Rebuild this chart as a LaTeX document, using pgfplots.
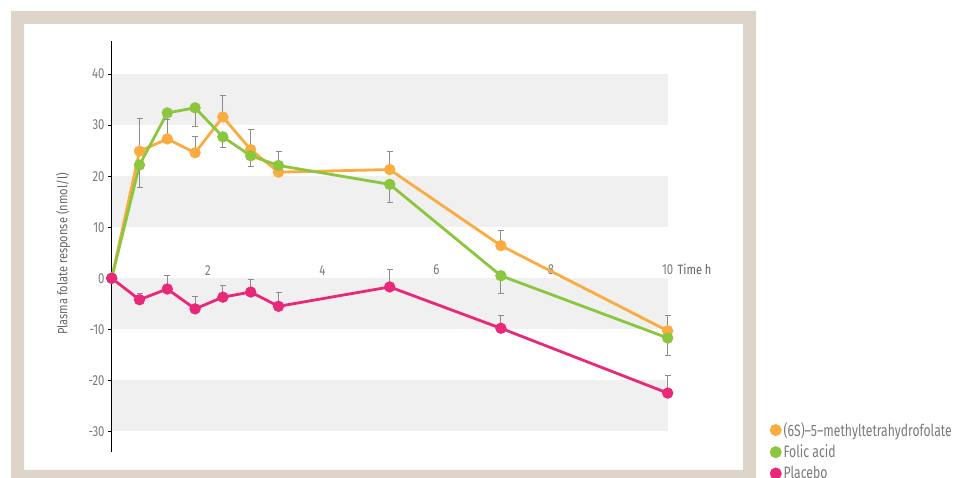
\documentclass[border=0pt]{standalone}
\usepackage{fontspec}
\setmainfont{Fira Sans}[FakeStretch=0.82]
\newfontfamily\legfont{Fira Sans}[FakeStretch=0.74]
\newfontfamily\tickfam{Fira Sans}[FakeStretch=0.78]
\usepackage{pgfplots}
\pgfplotsset{compat=1.18}

\definecolor{mthf}{HTML}{FAAC40}
\definecolor{folic}{HTML}{8CC63F}
\definecolor{placebo}{HTML}{E9287A}
\definecolor{framec}{HTML}{DDD5C9}
\definecolor{band}{HTML}{F0F0F0}
\definecolor{errbar}{HTML}{8C8C8C}
\definecolor{txt}{HTML}{7A7A7A}

\newcommand\tickfont{\tickfam\fontsize{14.5}{16}\selectfont}

\begin{document}
\begin{tikzpicture}[x=1pt,y=1pt]
% panel frame (a ring, so nothing below it is hidden)
\fill[framec, even odd rule] (11,0) rectangle (756,467) (24,8) rectangle (743,454);

\begin{axis}[
  set layers,
  scale only axis,
  width=556pt, height=411.6pt,
  at={(111.7pt,25.7pt)}, anchor=south west,
  xmin=0, xmax=10, ymin=-34.1, ymax=46.55,
  axis x line=middle, axis y line=left,
  axis line style={-, black, line width=0.9pt},
  xtick={1.73,3.79,5.84,7.90,10},
  xticklabels={{\tickfont 2},{\tickfont 4},{\tickfont 6},{\tickfont 8},{\tickfont 10}},
  ytick={-30,-20,...,40},
  yticklabel={\tickfont\pgfmathprintnumber{\tick}},
  tick align=outside,
  major tick length=4pt,
  tick style={black, line width=0.8pt},
  /pgf/number format/assume math mode=true,
  xticklabel style={text=txt, anchor=south, inner sep=2pt, yshift=5pt},
  yticklabel style={text=txt, inner sep=3pt},
  clip=false,
  legend style={draw=none, fill=none, at={(1.178,0.083)}, anchor=north west,
    font=\legfont\fontsize{16.5}{18}\selectfont, row sep=3.2pt,
    cells={anchor=west, text=txt}},
  legend image code/.code={\fill[#1] (0.15em,0) circle (4.5pt);},
  every axis plot/.append style={line width=2.8pt, mark=*, mark size=4.2pt},
  error bars/error bar style={line width=0.9pt, errbar},
  error bars/error mark options={rotate=90, mark size=3pt, line width=0.9pt, errbar},
]
% alternating horizontal bands
\fill[band, on layer=axis background] (axis cs:0,30) rectangle (axis cs:10,40);
\fill[band, on layer=axis background] (axis cs:0,10) rectangle (axis cs:10,20);
\fill[band, on layer=axis background] (axis cs:0,-10) rectangle (axis cs:10,0);
\fill[band, on layer=axis background] (axis cs:0,-30) rectangle (axis cs:10,-20);

\addplot[mthf, mark options={fill=mthf, draw=mthf},
  error bars/.cd, y dir=plus, y explicit] coordinates {
  (0,0) +- (0,0)
  (0.5,24.9) +- (0,6.4)
  (1,27.3) +- (0,3.9)
  (1.5,24.6) +- (0,3.2)
  (2,31.6) +- (0,4.2)
  (2.5,25.2) +- (0,4.0)
  (3,20.8) +- (0,4.1)
  (5,21.3) +- (0,3.5)
  (7,6.4) +- (0,2.9)
  (10,-10.3) +- (0,3.1)
};
\addlegendentry{(6S)–5–methyltetrahydrofolate}

\addplot[folic, mark options={fill=folic, draw=folic},
  error bars/.cd, y dir=minus, y explicit] coordinates {
  (0,0) +- (0,0)
  (0.5,22.2) +- (0,4.5)
  (1,32.4) +- (0,1.2)
  (1.5,33.4) +- (0,3.6)
  (2,27.7) +- (0,2.1)
  (2.5,24.0) +- (0,2.0)
  (3,22.1) +- (0,0.5)
  (5,18.4) +- (0,3.6)
  (7,0.5) +- (0,3.4)
  (10,-11.7) +- (0,3.4)
};
\addlegendentry{Folic acid}

\addplot[placebo, mark options={fill=placebo, draw=placebo},
  error bars/.cd, y dir=plus, y explicit] coordinates {
  (0,0) +- (0,0)
  (0.5,-4.2) +- (0,1.3)
  (1,-2.1) +- (0,2.6)
  (1.5,-6.0) +- (0,2.5)
  (2,-3.7) +- (0,2.3)
  (2.5,-2.7) +- (0,2.4)
  (3,-5.5) +- (0,2.7)
  (5,-1.7) +- (0,3.5)
  (7,-9.8) +- (0,2.6)
  (10,-22.5) +- (0,3.5)
};
\addlegendentry{Placebo}
\end{axis}

\node[anchor=base west, inner sep=0, text=txt!80!black, font=\fontsize{13.5}{15}\selectfont] at (677.5,203.5) {Time h};
\node[rotate=90, inner sep=0, text=txt!85!black, font=\fontsize{13.5}{16}\selectfont] at (63,224) {Plasma folate response (nmol/l)};
% page area
\pgfresetboundingbox
\path[use as bounding box] (0,0) rectangle (954,478);
\end{tikzpicture}
\end{document}
